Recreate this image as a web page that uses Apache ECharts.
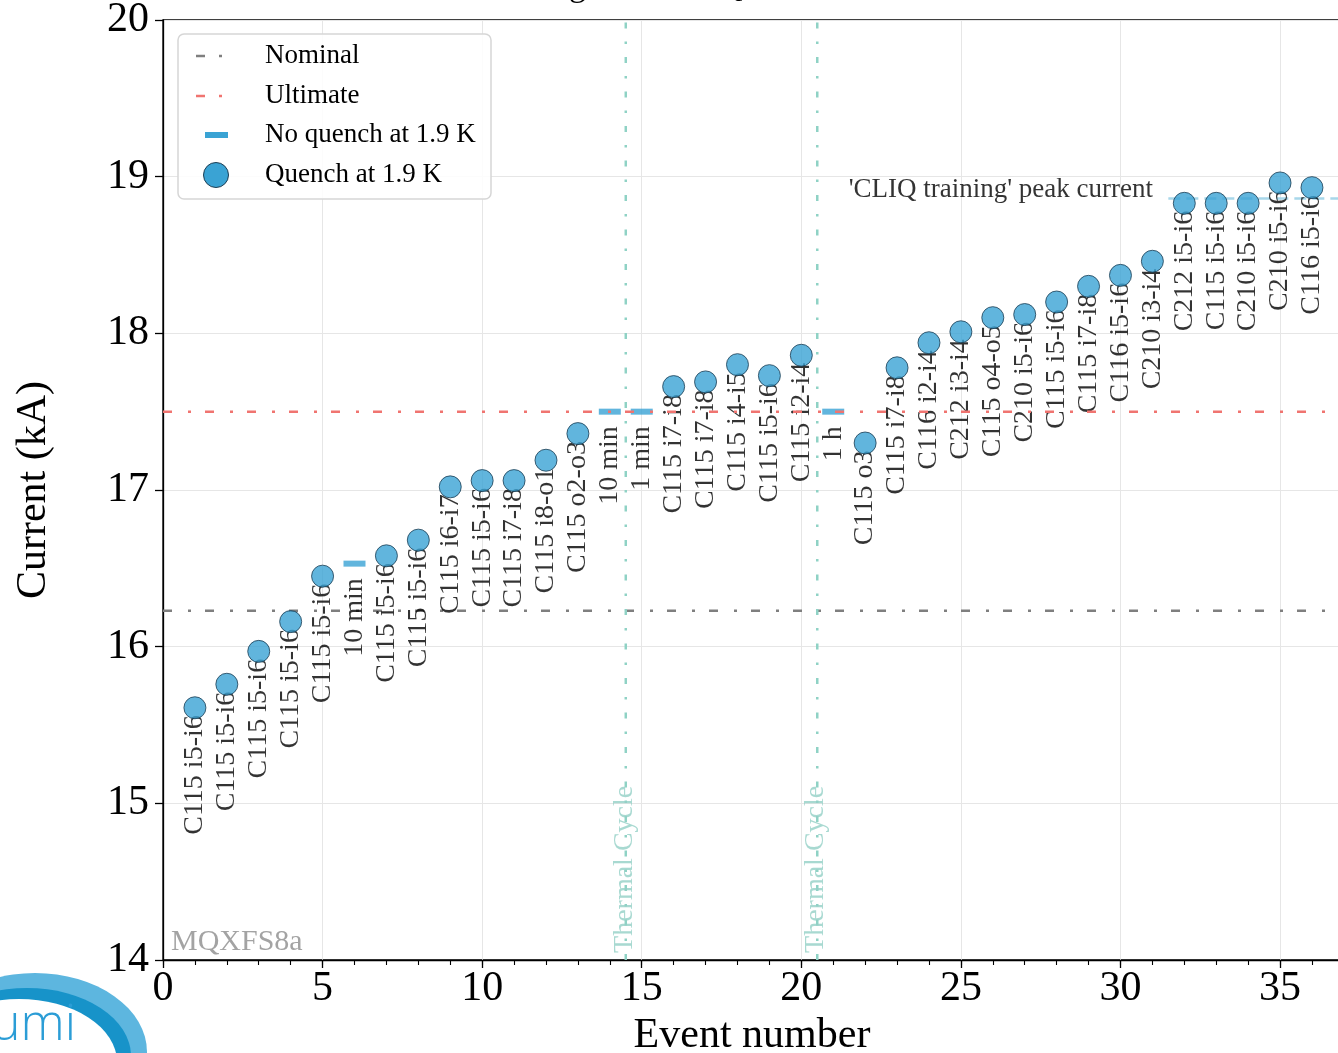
<!DOCTYPE html>
<html><head><meta charset="utf-8">
<script src="https://cdn.jsdelivr.net/npm/echarts@6/dist/echarts.min.js"></script>
<style>html,body{margin:0;padding:0;background:#fff;overflow:hidden}#c{width:1338px;height:1053px}</style>
</head><body><div id="c"></div><script>
// ---- data ----
const eventNumbers = [1,2,3,4,5,6,7,8,9,10,11,12,13,14,15,16,17,18,19,20,21,22,23,24,25,26,27,28,29,30,31,32,33,34,35,36];
const peakCurrent = [15.61,15.76,15.97,16.16,16.45,16.53,16.58,16.68,17.02,17.06,17.06,17.19,17.36,17.50,17.50,17.66,17.69,17.80,17.73,17.86,17.50,17.30,17.78,17.94,18.01,18.10,18.12,18.20,18.30,18.37,18.46,18.83,18.83,18.83,18.96,18.93];
const quenched = [1,1,1,1,1,0,1,1,1,1,1,1,1,0,0,1,1,1,1,1,0,1,1,1,1,1,1,1,1,1,1,1,1,1,1,1];
const eventLabels = ['C115 i5-i6','C115 i5-i6','C115 i5-i6','C115 i5-i6','C115 i5-i6','10 min','C115 i5-i6','C115 i5-i6','C115 i6-i7','C115 i5-i6','C115 i7-i8','C115 i8-o1','C115 o2-o3','10 min','1 min','C115 i7-i8','C115 i7-i8','C115 i4-i5','C115 i5-i6','C115 i2-i4','1 h','C115 o3','C115 i7-i8','C116 i2-i4','C212 i3-i4','C115 o4-o5','C210 i5-i6','C115 i5-i6','C115 i7-i8','C116 i5-i6','C210 i3-i4','C212 i5-i6','C115 i5-i6','C210 i5-i6','C210 i5-i6','C116 i5-i6'];
const nominalCurrent = 16.23;
const ultimateCurrent = 17.5;
const cliqPeakCurrent = 18.86;
const cliqStartEvent = 31.5;
const thermalCycles = [14.5, 20.5];
const legendNames = ['Nominal','Ultimate','No quench at 1.9 K','Quench at 1.9 K'];
const magnetName = 'MQXFS8a';
const titleText = 'Training with CLIQ';

const X_MIN = 0, X_MAX = 36.91, Y_MIN = 14, Y_MAX = 20;
const SERIF = 'Liberation Serif';
const BLUE = '#3aa3d4';

const chart = echarts.init(document.getElementById('c'), null, {renderer: 'canvas'});

const quenchData = [], noQuenchData = [], labelData = [];
eventNumbers.forEach((e, i) => {
  const pt = [e, peakCurrent[i]];
  if (quenched[i]) quenchData.push(pt); else noQuenchData.push(pt);
  labelData.push({value: pt, label: {formatter: eventLabels[i], distance: quenched[i] ? 7 : 14}});
});

const dashDot = [9, 16, 3, 14];

const series = [
  {type: 'line', name: legendNames[0], data: [[X_MIN, nominalCurrent], [X_MAX, nominalCurrent]], symbol: 'none', silent: true, z: 2,
   lineStyle: {color: '#7f7f7f', width: 2.5, type: dashDot}},
  {type: 'line', name: legendNames[1], data: [[X_MIN, ultimateCurrent], [X_MAX, ultimateCurrent]], symbol: 'none', silent: true, z: 5,
   lineStyle: {color: '#f07470', width: 2.5, type: dashDot}},
  ...thermalCycles.map(tc => ({type: 'line', data: [[tc, Y_MIN], [tc, Y_MAX]], symbol: 'none', silent: true, z: 2,
   lineStyle: {color: '#8fd2c5', width: 2.5, type: [6, 13, 2.5, 13]}})),
  {type: 'line', data: [[cliqStartEvent, cliqPeakCurrent], [X_MAX, cliqPeakCurrent]], symbol: 'none', silent: true, z: 2,
   lineStyle: {color: '#a8d7ea', width: 2.5, type: [12, 6]}},
  {type: 'scatter', data: labelData, symbolSize: 1, itemStyle: {color: 'transparent'}, silent: true, z: 3,
   label: {show: true, position: 'bottom', rotate: 90, align: 'right', verticalAlign: 'middle',
     fontFamily: SERIF, fontSize: 28, color: '#000'}},
  {type: 'scatter', name: legendNames[2], data: noQuenchData, symbol: 'rect', symbolSize: [22, 6], silent: true, z: 4,
   itemStyle: {color: BLUE}},
  {type: 'scatter', name: legendNames[3], data: quenchData, symbol: 'circle', symbolSize: 22, silent: true, z: 6,
   itemStyle: {color: BLUE, borderColor: '#1d3d52', borderWidth: 1}},
  {type: 'scatter', symbolSize: 1, itemStyle: {color: 'transparent'}, silent: true, z: 7,
   label: {show: true, position: 'inside', fontFamily: SERIF},
   data: [
     ...thermalCycles.map(tc => ({value: [tc - 0.05, 14.045], label: {formatter: 'Thermal Cycle', rotate: 90, align: 'left', verticalAlign: 'middle', fontSize: 28, color: '#92d0c6'}})),
     {value: [0.25, 14.115], label: {formatter: magnetName, align: 'left', verticalAlign: 'middle', fontSize: 30, color: '#8c8c8c'}},
     {value: [31.02, 18.915], label: {formatter: "'CLIQ training' peak current", align: 'right', verticalAlign: 'middle', fontSize: 27, color: '#000'}}
   ]}
];

// legend drawn as graphic (box, icons, text)
const legendRows = [56, 96, 135, 175];
const legendGraphics = [
  {type: 'rect', shape: {x: 178, y: 34, width: 313, height: 165, r: 6}, style: {fill: 'rgba(255,255,255,0.85)', stroke: '#d6d6d6', lineWidth: 1.5}, z: 100},
  {type: 'line', shape: {x1: 196, y1: legendRows[0], x2: 222, y2: legendRows[0]}, style: {stroke: '#7f7f7f', lineWidth: 2.5, lineDash: [9, 14, 3, 20]}, z: 101},
  {type: 'line', shape: {x1: 196, y1: legendRows[1], x2: 222, y2: legendRows[1]}, style: {stroke: '#f07470', lineWidth: 2.5, lineDash: [9, 14, 3, 20]}, z: 101},
  {type: 'rect', shape: {x: 205, y: legendRows[2] - 3, width: 23, height: 6}, style: {fill: BLUE}, z: 101},
  {type: 'circle', shape: {cx: 216, cy: legendRows[3], r: 12.5}, style: {fill: BLUE, stroke: '#1d3d52', lineWidth: 1}, z: 101},
  ...legendNames.map((n, i) => ({type: 'text', x: 265, y: legendRows[i], z: 101,
     style: {text: n, font: '27px "' + SERIF + '"', fill: '#000', align: 'left', verticalAlign: 'middle', textAlign: 'left', textVerticalAlign: 'middle'}}))
];

const logoGraphics = [
  {type: 'circle', shape: {cx: 0, cy: 0, r: 1}, x: 35, y: 1052, scaleX: 112, scaleY: 79, style: {fill: '#5db6df'}, z: 50},
  {type: 'circle', shape: {cx: 0, cy: 0, r: 1}, x: 27, y: 1056, scaleX: 104, scaleY: 68, style: {fill: '#1793c9'}, z: 51},
  {type: 'circle', shape: {cx: 0, cy: 0, r: 1}, x: 19, y: 1062, scaleX: 98, scaleY: 63, style: {fill: '#ffffff'}, z: 52},
  {type: 'text', x: -9, y: 1026, z: 53, style: {text: 'umi', font: '300 50px "Open Sans"', fill: '#2b9dd6', align: 'left', verticalAlign: 'middle', textAlign: 'left', textVerticalAlign: 'middle'}}
];

const titleGraphic = {type: 'text', x: 470, y: -13, z: 60,
  style: {text: titleText, font: '34px "' + SERIF + '"', fill: '#000', align: 'left', verticalAlign: 'middle', textAlign: 'left', textVerticalAlign: 'middle'}};

chart.setOption({
  animation: false,
  backgroundColor: '#fff',
  grid: {left: 163, top: 20, right: -3, bottom: 93, containLabel: false, outerBoundsMode: 'none',
    show: true, borderColor: '#000', borderWidth: 1.3, backgroundColor: 'transparent'},
  xAxis: [
    {type: 'value', min: X_MIN, max: X_MAX, interval: 5,
     name: 'Event number', nameLocation: 'middle', nameGap: 53,
     nameTextStyle: {fontFamily: SERIF, fontSize: 42, color: '#000'},
     axisLine: {show: true, onZero: false, lineStyle: {color: '#000', width: 1.3}},
     axisTick: {show: true, length: 8, lineStyle: {color: '#000', width: 1.3}},
     axisLabel: {fontFamily: SERIF, fontSize: 42, color: '#000', margin: 8, showMaxLabel: false,
       formatter: v => (Math.abs(v % 5) < 1e-9 ? String(v) : '')},
     splitLine: {show: true, lineStyle: {color: '#e6e6e6', width: 1}}},
    {type: 'value', min: X_MIN, max: X_MAX, interval: 1, position: 'bottom',
     axisLine: {show: false}, axisLabel: {show: false}, splitLine: {show: false},
     axisTick: {show: true, length: 5, lineStyle: {color: '#000', width: 1.1}}}
  ],
  yAxis: {type: 'value', min: Y_MIN, max: Y_MAX, interval: 1,
    name: 'Current (kA)', nameLocation: 'middle', nameGap: 108,
    nameTextStyle: {fontFamily: SERIF, fontSize: 42, color: '#000'},
    axisLine: {show: true, onZero: false, lineStyle: {color: '#000', width: 1.3}},
    axisTick: {show: true, length: 8, lineStyle: {color: '#000', width: 1.3}},
    axisLabel: {fontFamily: SERIF, fontSize: 42, color: '#000', margin: 14},
    splitLine: {show: true, lineStyle: {color: '#e6e6e6', width: 1}}},
  series: series,
  graphic: [titleGraphic, ...logoGraphics, ...legendGraphics]
});
</script></body></html>
